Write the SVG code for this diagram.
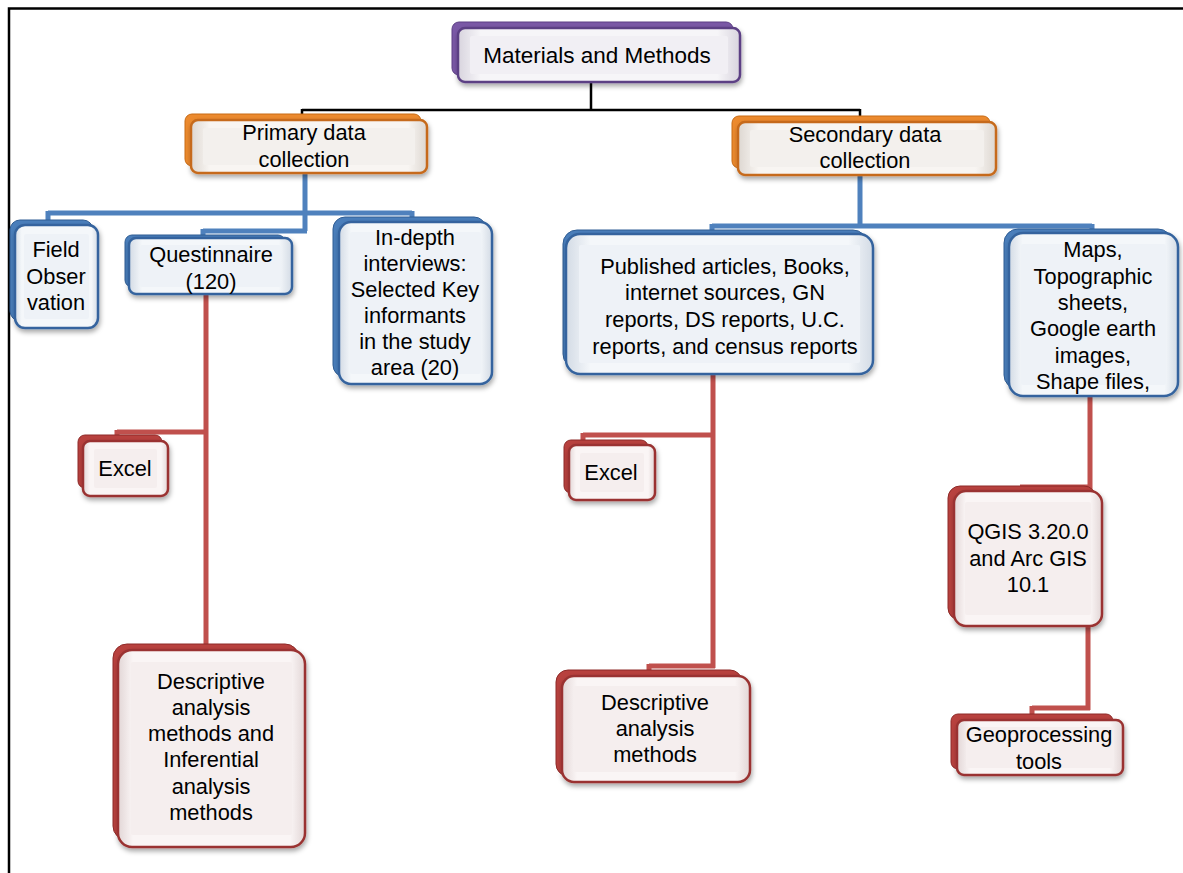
<svg xmlns="http://www.w3.org/2000/svg" width="1183" height="873" viewBox="0 0 1183 873">
<defs>
<style>
text{font-family:"Liberation Sans",Arial,sans-serif;font-size:21.8px;fill:#000;text-anchor:middle}
.big{font-size:22.5px}
.conn-k{stroke:#000;stroke-width:2.5;fill:none}
.conn-b{stroke:#4f81bd;stroke-width:5;fill:none}
.conn-r{stroke:#c0504d;stroke-width:5;fill:none}
.bk-p{fill:#7a58a6;stroke:#5c3f84;stroke-width:1}
.bk-o{fill:#ec8a2e;stroke:#c76a14;stroke-width:1}
.bk-b{fill:#4a7ebb;stroke:#2f5d94;stroke-width:1}
.bk-r{fill:#b8413e;stroke:#8e2a28;stroke-width:1}
.fr-p{fill:url(#gp);stroke:#5c3f84;stroke-width:2.5}
.fr-o{fill:url(#go);stroke:#c66a1a;stroke-width:2.5}
.fr-b{fill:url(#gb);stroke:#34649e;stroke-width:2.5}
.fr-r{fill:url(#gr);stroke:#9a3330;stroke-width:2.5}
.in-p{fill:#f1eff4}
.in-o{fill:#f3f0ed}
.in-b{fill:#eef2f7}
.in-r{fill:#f5eeee}
</style>
<linearGradient id="gp" x1="0" y1="0" x2="1" y2="0"><stop offset="0" stop-color="#d8d4de"/><stop offset="0.08" stop-color="#f6f5f8"/><stop offset="0.92" stop-color="#f6f5f8"/><stop offset="1" stop-color="#d8d4de"/></linearGradient>
<linearGradient id="go" x1="0" y1="0" x2="1" y2="0"><stop offset="0" stop-color="#ddd7d1"/><stop offset="0.08" stop-color="#f8f5f2"/><stop offset="0.92" stop-color="#f8f5f2"/><stop offset="1" stop-color="#ddd7d1"/></linearGradient>
<linearGradient id="gb" x1="0" y1="0" x2="1" y2="0"><stop offset="0" stop-color="#d3dbe5"/><stop offset="0.08" stop-color="#f4f7fa"/><stop offset="0.92" stop-color="#f4f7fa"/><stop offset="1" stop-color="#d3dbe5"/></linearGradient>
<linearGradient id="gr" x1="0" y1="0" x2="1" y2="0"><stop offset="0" stop-color="#e2d6d6"/><stop offset="0.08" stop-color="#faf5f5"/><stop offset="0.92" stop-color="#faf5f5"/><stop offset="1" stop-color="#e2d6d6"/></linearGradient>
<filter id="sh" x="-10%" y="-10%" width="120%" height="130%"><feDropShadow dx="1" dy="3" stdDeviation="2.5" flood-color="#000" flood-opacity="0.35"/></filter>
</defs>
<rect x="0" y="0" width="1183" height="873" fill="#fff"/>
<path d="M9,873 V8.5 H1183" stroke="#000" stroke-width="2.5" fill="none"/>

<g id="connectors">
<path class="conn-k" d="M591,82 V110 M302,110 H860 M302,109 V118 M860,109 V120"/>
<path class="conn-b" d="M305,172 V231 M48,213 H412 M48,211 V224 M412,211 V222 M203,231 H307 M203,229 V238"/>
<path class="conn-b" d="M860,175 V228 M712,226 H1092 M712,224 V234 M1092,224 V234"/>
<path class="conn-r" d="M206,294 V648 M117,432 H208 M117,430 V438"/>
<path class="conn-r" d="M713,373 V668 M583,435 H715 M583,433 V442 M649,666 H715 M649,664 V672"/>
<path class="conn-r" d="M1090,395 V489 M1020,487 H1092"/>
<path class="conn-r" d="M1088,625 V710 M1032,708 H1090 M1032,706 V716"/>
</g>

<g id="n-materials">
<rect class="bk-p" x="452" y="22" width="281" height="53" rx="7"/>
<rect class="fr-p" x="458" y="28" width="282" height="54" rx="7" filter="url(#sh)"/>
<rect class="in-p" x="470" y="36" width="258" height="38" rx="2"/>
<text class="big" x="597" y="63">Materials and Methods</text>
</g>

<g id="n-primary">
<rect class="bk-o" x="185" y="114" width="236" height="52" rx="7"/>
<rect class="fr-o" x="191" y="120" width="236" height="53" rx="7" filter="url(#sh)"/>
<rect class="in-o" x="203" y="128" width="212" height="37" rx="2"/>
<text x="304" y="140">Primary data</text>
<text x="304" y="167">collection</text>
</g>

<g id="n-secondary">
<rect class="bk-o" x="732" y="116" width="258" height="52" rx="7"/>
<rect class="fr-o" x="738" y="122" width="258" height="53" rx="7" filter="url(#sh)"/>
<rect class="in-o" x="750" y="130" width="234" height="37" rx="2"/>
<text x="865" y="142">Secondary data</text>
<text x="865" y="168">collection</text>
</g>

<g id="n-field">
<rect class="bk-b" x="10" y="220" width="83" height="101" rx="10"/>
<rect class="fr-b" x="15" y="225" width="83" height="103" rx="10" filter="url(#sh)"/>
<rect class="in-b" x="24" y="234" width="65" height="85" rx="2"/>
<text x="56" y="257">Field</text>
<text x="56" y="284">Obser</text>
<text x="56" y="310">vation</text>
</g>

<g id="n-questionnaire">
<rect class="bk-b" x="125" y="235" width="160" height="52" rx="7"/>
<rect class="fr-b" x="129" y="238" width="163" height="56" rx="7" filter="url(#sh)"/>
<rect class="in-b" x="140" y="245" width="141" height="42" rx="2"/>
<text x="211" y="262">Questinnaire</text>
<text x="211" y="289">(120)</text>
</g>

<g id="n-indepth">
<rect class="bk-b" x="333" y="217" width="153" height="160" rx="12"/>
<rect class="fr-b" x="339" y="222" width="153" height="162" rx="12" filter="url(#sh)"/>
<rect class="in-b" x="350" y="232" width="131" height="142" rx="2"/>
<text x="415" y="245">In-depth</text>
<text x="415" y="271">interviews:</text>
<text x="415" y="297">Selected Key</text>
<text x="415" y="323">informants</text>
<text x="415" y="349">in the study</text>
<text x="415" y="375">area (20)</text>
</g>

<g id="n-published">
<rect class="bk-b" x="563" y="230" width="304" height="138" rx="14"/>
<rect class="fr-b" x="566" y="234" width="307" height="140" rx="14" filter="url(#sh)"/>
<rect class="in-b" x="579" y="245" width="281" height="118" rx="2"/>
<text x="725" y="274">Published articles, Books,</text>
<text x="725" y="300">internet sources, GN</text>
<text x="725" y="327">reports, DS reports, U.C.</text>
<text x="725" y="354">reports, and census reports</text>
</g>

<g id="n-maps">
<rect class="bk-b" x="1004" y="229" width="168" height="160" rx="14"/>
<rect class="fr-b" x="1009" y="233" width="169" height="163" rx="14" filter="url(#sh)"/>
<rect class="in-b" x="1021" y="244" width="145" height="141" rx="2"/>
<text x="1093" y="257">Maps,</text>
<text x="1093" y="284">Topographic</text>
<text x="1093" y="310">sheets,</text>
<text x="1093" y="336">Google earth</text>
<text x="1093" y="363">images,</text>
<text x="1093" y="389">Shape files,</text>
</g>

<g id="n-excel1">
<rect class="bk-r" x="78" y="435" width="84" height="53" rx="7"/>
<rect class="fr-r" x="83" y="441" width="85" height="55" rx="7" filter="url(#sh)"/>
<rect class="in-r" x="94" y="449" width="63" height="39" rx="2"/>
<text x="125" y="476">Excel</text>
</g>

<g id="n-excel2">
<rect class="bk-r" x="564" y="440" width="84" height="53" rx="7"/>
<rect class="fr-r" x="569" y="445" width="86" height="55" rx="7" filter="url(#sh)"/>
<rect class="in-r" x="580" y="453" width="64" height="39" rx="2"/>
<text x="611" y="480">Excel</text>
</g>

<g id="n-desc1">
<rect class="bk-r" x="113" y="644" width="186" height="196" rx="14"/>
<rect class="fr-r" x="118" y="650" width="187" height="197" rx="14" filter="url(#sh)"/>
<rect class="in-r" x="131" y="662" width="161" height="173" rx="2"/>
<text x="211" y="689">Descriptive</text>
<text x="211" y="715">analysis</text>
<text x="211" y="741">methods and</text>
<text x="211" y="767">Inferential</text>
<text x="211" y="794">analysis</text>
<text x="211" y="820">methods</text>
</g>

<g id="n-desc2">
<rect class="bk-r" x="556" y="670" width="186" height="106" rx="12"/>
<rect class="fr-r" x="562" y="676" width="188" height="106" rx="12" filter="url(#sh)"/>
<rect class="in-r" x="574" y="686" width="164" height="86" rx="2"/>
<text x="655" y="710">Descriptive</text>
<text x="655" y="736">analysis</text>
<text x="655" y="762">methods</text>
</g>

<g id="n-qgis">
<rect class="bk-r" x="948" y="486" width="148" height="134" rx="12"/>
<rect class="fr-r" x="954" y="491" width="148" height="135" rx="12" filter="url(#sh)"/>
<rect class="in-r" x="965" y="502" width="126" height="113" rx="2"/>
<text x="1028" y="539">QGIS 3.20.0</text>
<text x="1028" y="566">and Arc GIS</text>
<text x="1028" y="592">10.1</text>
</g>

<g id="n-geo">
<rect class="bk-r" x="951" y="714" width="162" height="55" rx="7"/>
<rect class="fr-r" x="957" y="720" width="166" height="55" rx="7" filter="url(#sh)"/>
<rect class="in-r" x="966" y="727" width="148" height="41" rx="2"/>
<text x="1039" y="742">Geoprocessing</text>
<text x="1039" y="769">tools</text>
</g>
</svg>
